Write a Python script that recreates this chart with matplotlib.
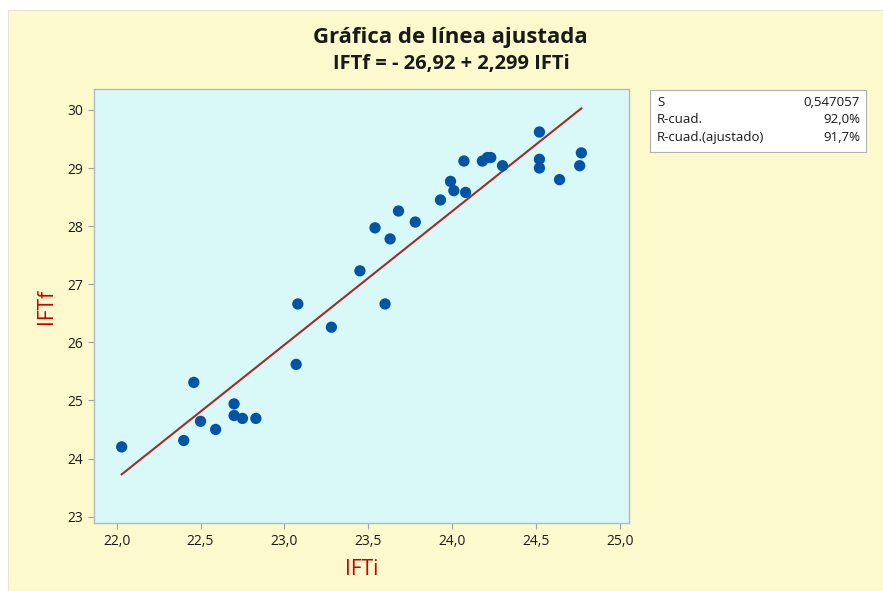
import matplotlib
matplotlib.use("Agg")
import matplotlib.pyplot as plt
from matplotlib.patches import Rectangle

plt.rcParams['font.family'] = ['Open Sans', 'DejaVu Sans']

# Data
ifti = [22.03, 22.40, 22.46, 22.50, 22.59, 22.70, 22.70, 22.75, 22.83, 23.07,
        23.08, 23.28, 23.45, 23.54, 23.60, 23.63, 23.68, 23.78, 23.93, 23.99,
        24.01, 24.07, 24.08, 24.18, 24.21, 24.23, 24.30, 24.52, 24.52, 24.52,
        24.64, 24.76, 24.77]
iftf = [24.20, 24.31, 25.31, 24.64, 24.50, 24.94, 24.74, 24.69, 24.69, 25.62,
        26.66, 26.26, 27.23, 27.97, 26.66, 27.78, 28.26, 28.07, 28.45, 28.77,
        28.61, 29.12, 28.58, 29.12, 29.18, 29.18, 29.04, 29.62, 29.15, 29.00,
        28.80, 29.04, 29.26]
intercept = -26.92
slope = 2.299
stats_labels = ["S", "R-cuad.", "R-cuad.(ajustado)"]
stats_values = ["0,547057", "92,0%", "91,7%"]
x_ticks = [22.0, 22.5, 23.0, 23.5, 24.0, 24.5, 25.0]
y_ticks = [23, 24, 25, 26, 27, 28, 29, 30]

W, H = 883, 591
fig = plt.figure(figsize=(W / 100, H / 100), dpi=100, facecolor='white')
fig.patches.append(Rectangle((8 / W, 0), 1 - 8 / W, 1 - 10 / H, transform=fig.transFigure,
                             facecolor='#FCFACD', edgecolor='#E6E6D0', lw=0.8, zorder=-10))

ax = fig.add_axes([94 / W, 1 - 523 / H, 535 / W, 434 / H])
ax.set_facecolor('#D9F8F8')
for s in ax.spines.values():
    s.set_color('#B8B8B8')
    s.set_linewidth(1.0)

xmin, xmax = min(ifti), max(ifti)
ax.plot([xmin, xmax], [intercept + slope * xmin, intercept + slope * xmax],
        color='#A52A2A', lw=1.5, zorder=2)
ax.scatter(ifti, iftf, s=66, color='#0054A6', edgecolors='none', zorder=3)

ax.set_xlim(21.865, 25.054)
ax.set_ylim(22.89, 30.36)
ax.set_xticks(x_ticks)
ax.set_xticklabels([f"{v:.1f}".replace('.', ',') for v in x_ticks])
ax.set_yticks(y_ticks)
ax.set_yticklabels([str(v) for v in y_ticks])
ax.tick_params(axis='both', direction='out', length=4, width=0.8, color='#A0A0A0',
               labelsize=10, labelcolor='#1A1A1A', pad=4)

ax.set_xlabel('IFTi', color='#CC0000', fontsize=15, labelpad=7)
ax.set_ylabel('IFTf', color='#CC0000', fontsize=15, labelpad=7)

fig.text(450 / W, 1 - 38 / H, 'Gráfica de línea ajustada', ha='center', va='center',
         fontsize=16, fontweight='bold', color='#1A1A1A')
fig.text(451 / W, 1 - 64 / H, 'IFTf = - 26,92 + 2,299 IFTi', ha='center', va='center',
         fontsize=14.5, fontweight='bold', color='#1A1A1A')

# statistics box
bx0, by0, bx1, by1 = 650, 90, 866, 152
fig.patches.append(Rectangle((bx0 / W, 1 - by1 / H), (bx1 - bx0) / W, (by1 - by0) / H,
                             transform=fig.transFigure, facecolor='white',
                             edgecolor='#B0B0B0', lw=0.8, zorder=1))
rows_y = [103, 120, 137]
for lab, val, yy in zip(stats_labels, stats_values, rows_y):
    fig.text(657 / W, 1 - yy / H, lab, ha='left', va='center', fontsize=9.5, color='#1A1A1A')
    fig.text(860 / W, 1 - yy / H, val, ha='right', va='center', fontsize=9.5, color='#1A1A1A')

fig.savefig('out.png', dpi=100, facecolor=fig.get_facecolor())
